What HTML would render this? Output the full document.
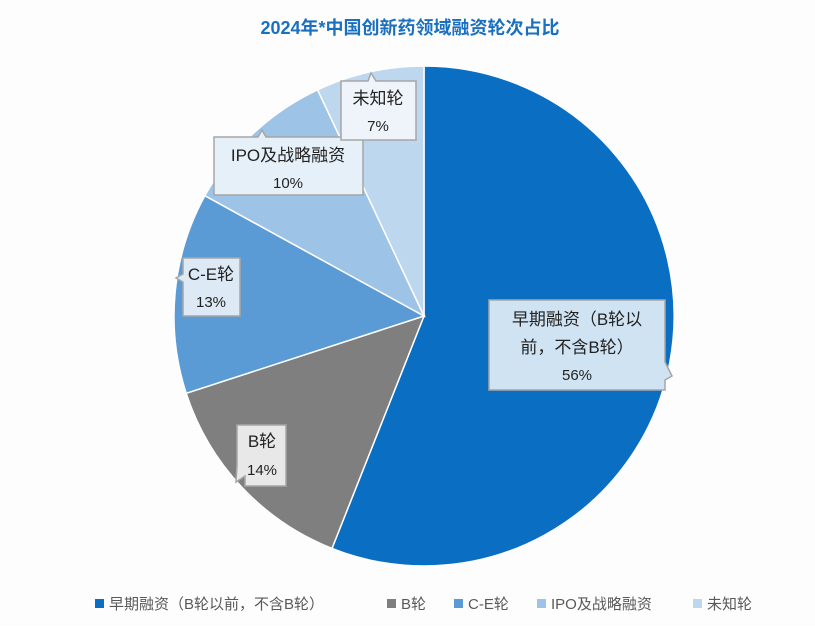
<!DOCTYPE html>
<html><head><meta charset="utf-8"><style>
body{margin:0;background:#fff;}
svg text{font-family:"Liberation Sans","Noto Sans CJK SC",sans-serif;}
</style></head><body>
<svg width="815" height="627" viewBox="0 0 815 627" xmlns="http://www.w3.org/2000/svg">
<rect width="815" height="627" fill="#fdfdfd"/>
<text x="410" y="34" text-anchor="middle" font-size="18" font-weight="bold" fill="#1a6fbf">2024年*中国创新药领域融资轮次占比</text>
<g stroke="#fff" stroke-width="1.5">
<path d="M424,316 L424,66 A250,250 0 1 1 332,548.4 Z" fill="#0a6fc2"/>
<path d="M424,316 L332,548.4 A250,250 0 0 1 186.2,393.3 Z" fill="#7f7f7f"/>
<path d="M424,316 L186.2,393.3 A250,250 0 0 1 204.9,195.7 Z" fill="#5b9bd5"/>
<path d="M424,316 L204.9,195.7 A250,250 0 0 1 317.6,89.8 Z" fill="#9dc3e6"/>
<path d="M424,316 L317.6,89.8 A250,250 0 0 1 424,66 Z" fill="#bdd7ee"/>
</g>
<g stroke="#a6a6a6" stroke-width="1.5" font-size="17" fill="#222">
<path d="M489,300 H665 V362 L672,376 L665,380 V390 H489 Z" fill="#cfe3f3"/>
<text x="577" y="325" text-anchor="middle" stroke="none">早期融资（B轮以</text>
<text x="577" y="353" text-anchor="middle" stroke="none">前，不含B轮）</text>
<text x="577" y="380" text-anchor="middle" stroke="none" font-size="15">56%</text>
<path d="M245,425 H286 V486 H245 V476 L236,482 L237,465 V425 Z" fill="#e8e8e8"/>
<text x="262" y="447" text-anchor="middle" stroke="none">B轮</text>
<text x="262" y="475" text-anchor="middle" stroke="none" font-size="15">14%</text>
<path d="M183,258 H240 V316 H183 V282 L176,278 L183,274 Z" fill="#dde9f5"/>
<text x="211" y="280" text-anchor="middle" stroke="none">C-E轮</text>
<text x="211" y="307" text-anchor="middle" stroke="none" font-size="15">13%</text>
<path d="M214,137 H258 L262,130 L266,137 H363 V195 H214 Z" fill="#e6f0f9"/>
<text x="288" y="161" text-anchor="middle" stroke="none">IPO及战略融资</text>
<text x="288" y="188" text-anchor="middle" stroke="none" font-size="15">10%</text>
<path d="M341,81 H368 L371,73 L376,81 H416 V140 H341 Z" fill="#eef4fa"/>
<text x="378" y="104" text-anchor="middle" stroke="none">未知轮</text>
<text x="378" y="131" text-anchor="middle" stroke="none" font-size="15">7%</text>
</g>
<g font-size="15" fill="#595959">
<rect x="95" y="599" width="9" height="9" fill="#0a6fc2"/><text x="109" y="609">早期融资（B轮以前，不含B轮）</text>
<rect x="387" y="599" width="9" height="9" fill="#7f7f7f"/><text x="401" y="609">B轮</text>
<rect x="454" y="599" width="9" height="9" fill="#5b9bd5"/><text x="468" y="609">C-E轮</text>
<rect x="537" y="599" width="9" height="9" fill="#9dc3e6"/><text x="551" y="609">IPO及战略融资</text>
<rect x="693" y="599" width="9" height="9" fill="#bdd7ee"/><text x="707" y="609">未知轮</text>
</g>
</svg>
</body></html>
